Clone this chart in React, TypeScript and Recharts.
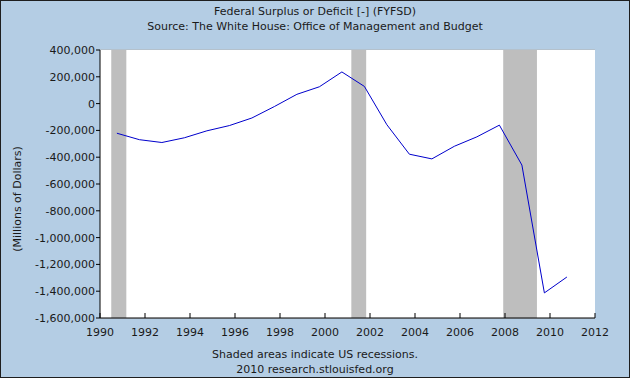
import React from 'react';
import { LineChart, Line, XAxis, YAxis, CartesianGrid, ReferenceArea } from 'recharts';

// fiscal years and surplus(+)/deficit(-) in millions of dollars
const fiscalYears = [
  1990, 1991, 1992, 1993, 1994, 1995, 1996, 1997, 1998, 1999, 2000,
  2001, 2002, 2003, 2004, 2005, 2006, 2007, 2008, 2009, 2010,
];
const surplus = [
  -221036, -269238, -290321, -255051, -203186, -163952, -107431, -21884, 69270, 125610, 236241,
  128236, -157758, -377585, -412727, -318346, -248181, -160701, -458553, -1412686, -1294204,
];

// NBER recessions (start, end) as fractional years
const recessionStarts = [1990.5, 2001.17, 2007.92];
const recessionEnds = [1991.17, 2001.83, 2009.42];

const xTicks = [1990, 1992, 1994, 1996, 1998, 2000, 2002, 2004, 2006, 2008, 2010, 2012];
const yTicks = [-1600000, -1400000, -1200000, -1000000, -800000, -600000, -400000, -200000, 0, 200000, 400000];

// fiscal year ends Sept 30
const data = fiscalYears.map((fy, i) => ({ date: fy + 0.75, value: surplus[i] }));

const FONT = '"DejaVu Sans", Verdana, sans-serif';
const TEXT = '#1a1a1a';
const X_MARGIN = 10;

const XTick = (props: any) => {
  const { x, y, payload } = props;
  const axisY = y - X_MARGIN;
  return (
    <g>
      <line x1={x} x2={x} y1={axisY} y2={axisY - 5} stroke="#000" />
      <text x={x} y={y} dy="0.71em" textAnchor="middle" fontSize={11} fontFamily={FONT} fill={TEXT}>
        {payload.value}
      </text>
    </g>
  );
};

const App: React.FC = () => {
  return (
    <div
      style={{
        position: 'absolute',
        left: 0,
        top: 0,
        width: 630,
        height: 378,
        background: '#B4CDE4',
        boxShadow: 'inset 0 0 0 1px #1e1e1e',
        fontFamily: FONT,
        color: TEXT,
      }}
    >
      <div style={{ position: 'absolute', top: 4, width: 630, textAlign: 'center', fontSize: 11, lineHeight: '15px' }}>
        Federal Surplus or Deficit [-] (FYFSD)
        <br />
        Source: The White House: Office of Management and Budget
      </div>
      <div
        style={{
          position: 'absolute',
          left: 17,
          top: 199,
          transform: 'translate(-50%, -50%) rotate(-90deg)',
          fontSize: 11,
          whiteSpace: 'nowrap',
        }}
      >
        (Millions of Dollars)
      </div>
      <div style={{ position: 'absolute', top: 347, width: 630, textAlign: 'center', fontSize: 11, lineHeight: '15px' }}>
        Shaded areas indicate US recessions.
        <br />
        2010 research.stlouisfed.org
      </div>
      <LineChart
        width={630}
        height={378}
        data={data}
        margin={{ top: 50, right: 35, bottom: 40, left: 0 }}
        style={{ position: 'absolute', left: 0, top: 0 }}
      >
        <rect x={100} y={50} width={495} height={268} fill="#fff" />
        <CartesianGrid vertical={false} stroke="#B4B4B4" fill="#fff" />
        {recessionStarts.map((s, i) => (
          <ReferenceArea key={i} x1={s} x2={recessionEnds[i]} fill="#BEBEBE" fillOpacity={1} stroke="none" ifOverflow="hidden" />
        ))}
        <XAxis
          type="number"
          dataKey="date"
          domain={[1990, 2012]}
          ticks={xTicks}
          allowDataOverflow
          height={20}
          tickSize={0}
          tickMargin={X_MARGIN}
          tick={<XTick />}
          axisLine={{ stroke: '#000' }}
          interval={0}
        />
        <YAxis
          type="number"
          domain={[-1600000, 400000]}
          ticks={yTicks}
          width={100}
          tickSize={4}
          tickMargin={1}
          axisLine={{ stroke: '#000' }}
          tickLine={{ stroke: '#000' }}
          tick={{ fontSize: 11, fontFamily: FONT, fill: TEXT }}
          tickFormatter={(v: number) => v.toLocaleString('en-US')}
          interval={0}
        />
        <Line
          type="linear"
          dataKey="value"
          stroke="#0000CC"
          strokeWidth={1}
          dot={false}
          isAnimationActive={false}
        />
      </LineChart>
    </div>
  );
};

export default App;
